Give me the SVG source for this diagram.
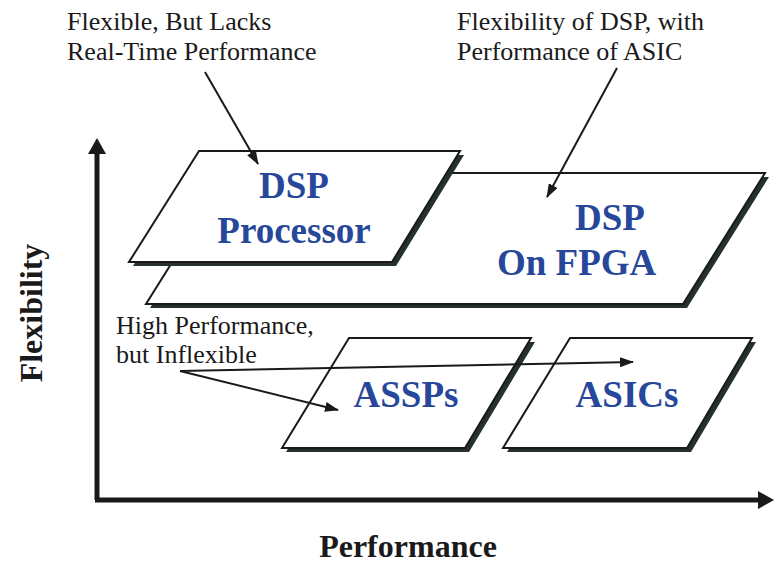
<svg xmlns="http://www.w3.org/2000/svg" width="774" height="563" viewBox="0 0 774 563">
  <defs>
    <marker id="ah" markerWidth="14" markerHeight="10" refX="13" refY="5" orient="auto" markerUnits="userSpaceOnUse">
      <path d="M0,0 L14,5 L0,10 z" fill="#1a1a1a"/>
    </marker>
    <marker id="axh" markerWidth="18" markerHeight="18" refX="4" refY="9" orient="auto" markerUnits="userSpaceOnUse">
      <path d="M0,0 L16,9 L0,18 z" fill="#1a1a1a"/>
    </marker>
  </defs>
  <style>
    .shadow { fill: #263030; }
    .box { fill: #ffffff; stroke: #1a1a1a; stroke-width: 2; stroke-linejoin: miter; }
    .lbl { font-family: "Liberation Serif", "Times New Roman", serif; font-weight: bold; font-size: 37px; fill: #27479b; }
    .note { font-family: "Liberation Serif", "Times New Roman", serif; font-size: 26px; fill: #1a1a1a; }
    .axlbl { font-family: "Liberation Serif", "Times New Roman", serif; font-weight: bold; font-size: 32px; fill: #1a1a1a; }
    .conn { stroke: #1a1a1a; stroke-width: 2; fill: none; }
    .axis { stroke: #1a1a1a; stroke-width: 5; fill: none; }
  </style>
  <rect width="774" height="563" fill="#ffffff"/>

  <g id="axes">
    <path class="axis" d="M97,500 L97,150" marker-end="url(#axh)"/>
    <path class="axis" d="M95,500 L762,500" marker-end="url(#axh)"/>
    <text class="axlbl" x="408" y="557" text-anchor="middle">Performance</text>
    <text class="axlbl" transform="translate(42,313) rotate(-90)" text-anchor="middle">Flexibility</text>
  </g>

  <g id="dsp-fpga">
    <polygon class="shadow" points="232,177 769,177 687,308 150,308"/>
    <polygon class="box" points="228,173 765,173 683,304 146,304"/>
    <text class="lbl" x="575" y="230">DSP</text>
    <text class="lbl" x="497" y="275">On FPGA</text>
  </g>

  <g id="dsp-processor">
    <polygon class="shadow" points="203,155 464,155 396,266 133,266"/>
    <polygon class="box" points="199,151 460,151 392,262 129,262"/>
    <text class="lbl" x="294" y="198" text-anchor="middle">DSP</text>
    <text class="lbl" x="294" y="243" text-anchor="middle">Processor</text>
  </g>

  <g id="assps">
    <polygon class="shadow" points="353,342 535,342 469,452 286,452"/>
    <polygon class="box" points="349,338 531,338 465,448 282,448"/>
    <text class="lbl" x="406" y="407" text-anchor="middle">ASSPs</text>
  </g>

  <g id="asics">
    <polygon class="shadow" points="574,342 756,342 691,452 507,452"/>
    <polygon class="box" points="570,338 752,338 687,448 503,448"/>
    <text class="lbl" x="627" y="407" text-anchor="middle">ASICs</text>
  </g>

  <g id="notes">
    <text class="note" x="67" y="30">Flexible, But Lacks</text>
    <text class="note" x="67" y="60">Real-Time Performance</text>
    <text class="note" x="457" y="30">Flexibility of DSP, with</text>
    <text class="note" x="457" y="60">Performance of ASIC</text>
    <text class="note" x="116" y="334">High Performance,</text>
    <text class="note" x="116" y="363">but Inflexible</text>
  </g>

  <g id="connectors">
    <path class="conn" d="M205,72 L258,164" marker-end="url(#ah)"/>
    <path class="conn" d="M617,68 L547,197" marker-end="url(#ah)"/>
    <path class="conn" d="M180,371 L338,410" marker-end="url(#ah)"/>
    <path class="conn" d="M180,371 L633,362" marker-end="url(#ah)"/>
  </g>
</svg>
